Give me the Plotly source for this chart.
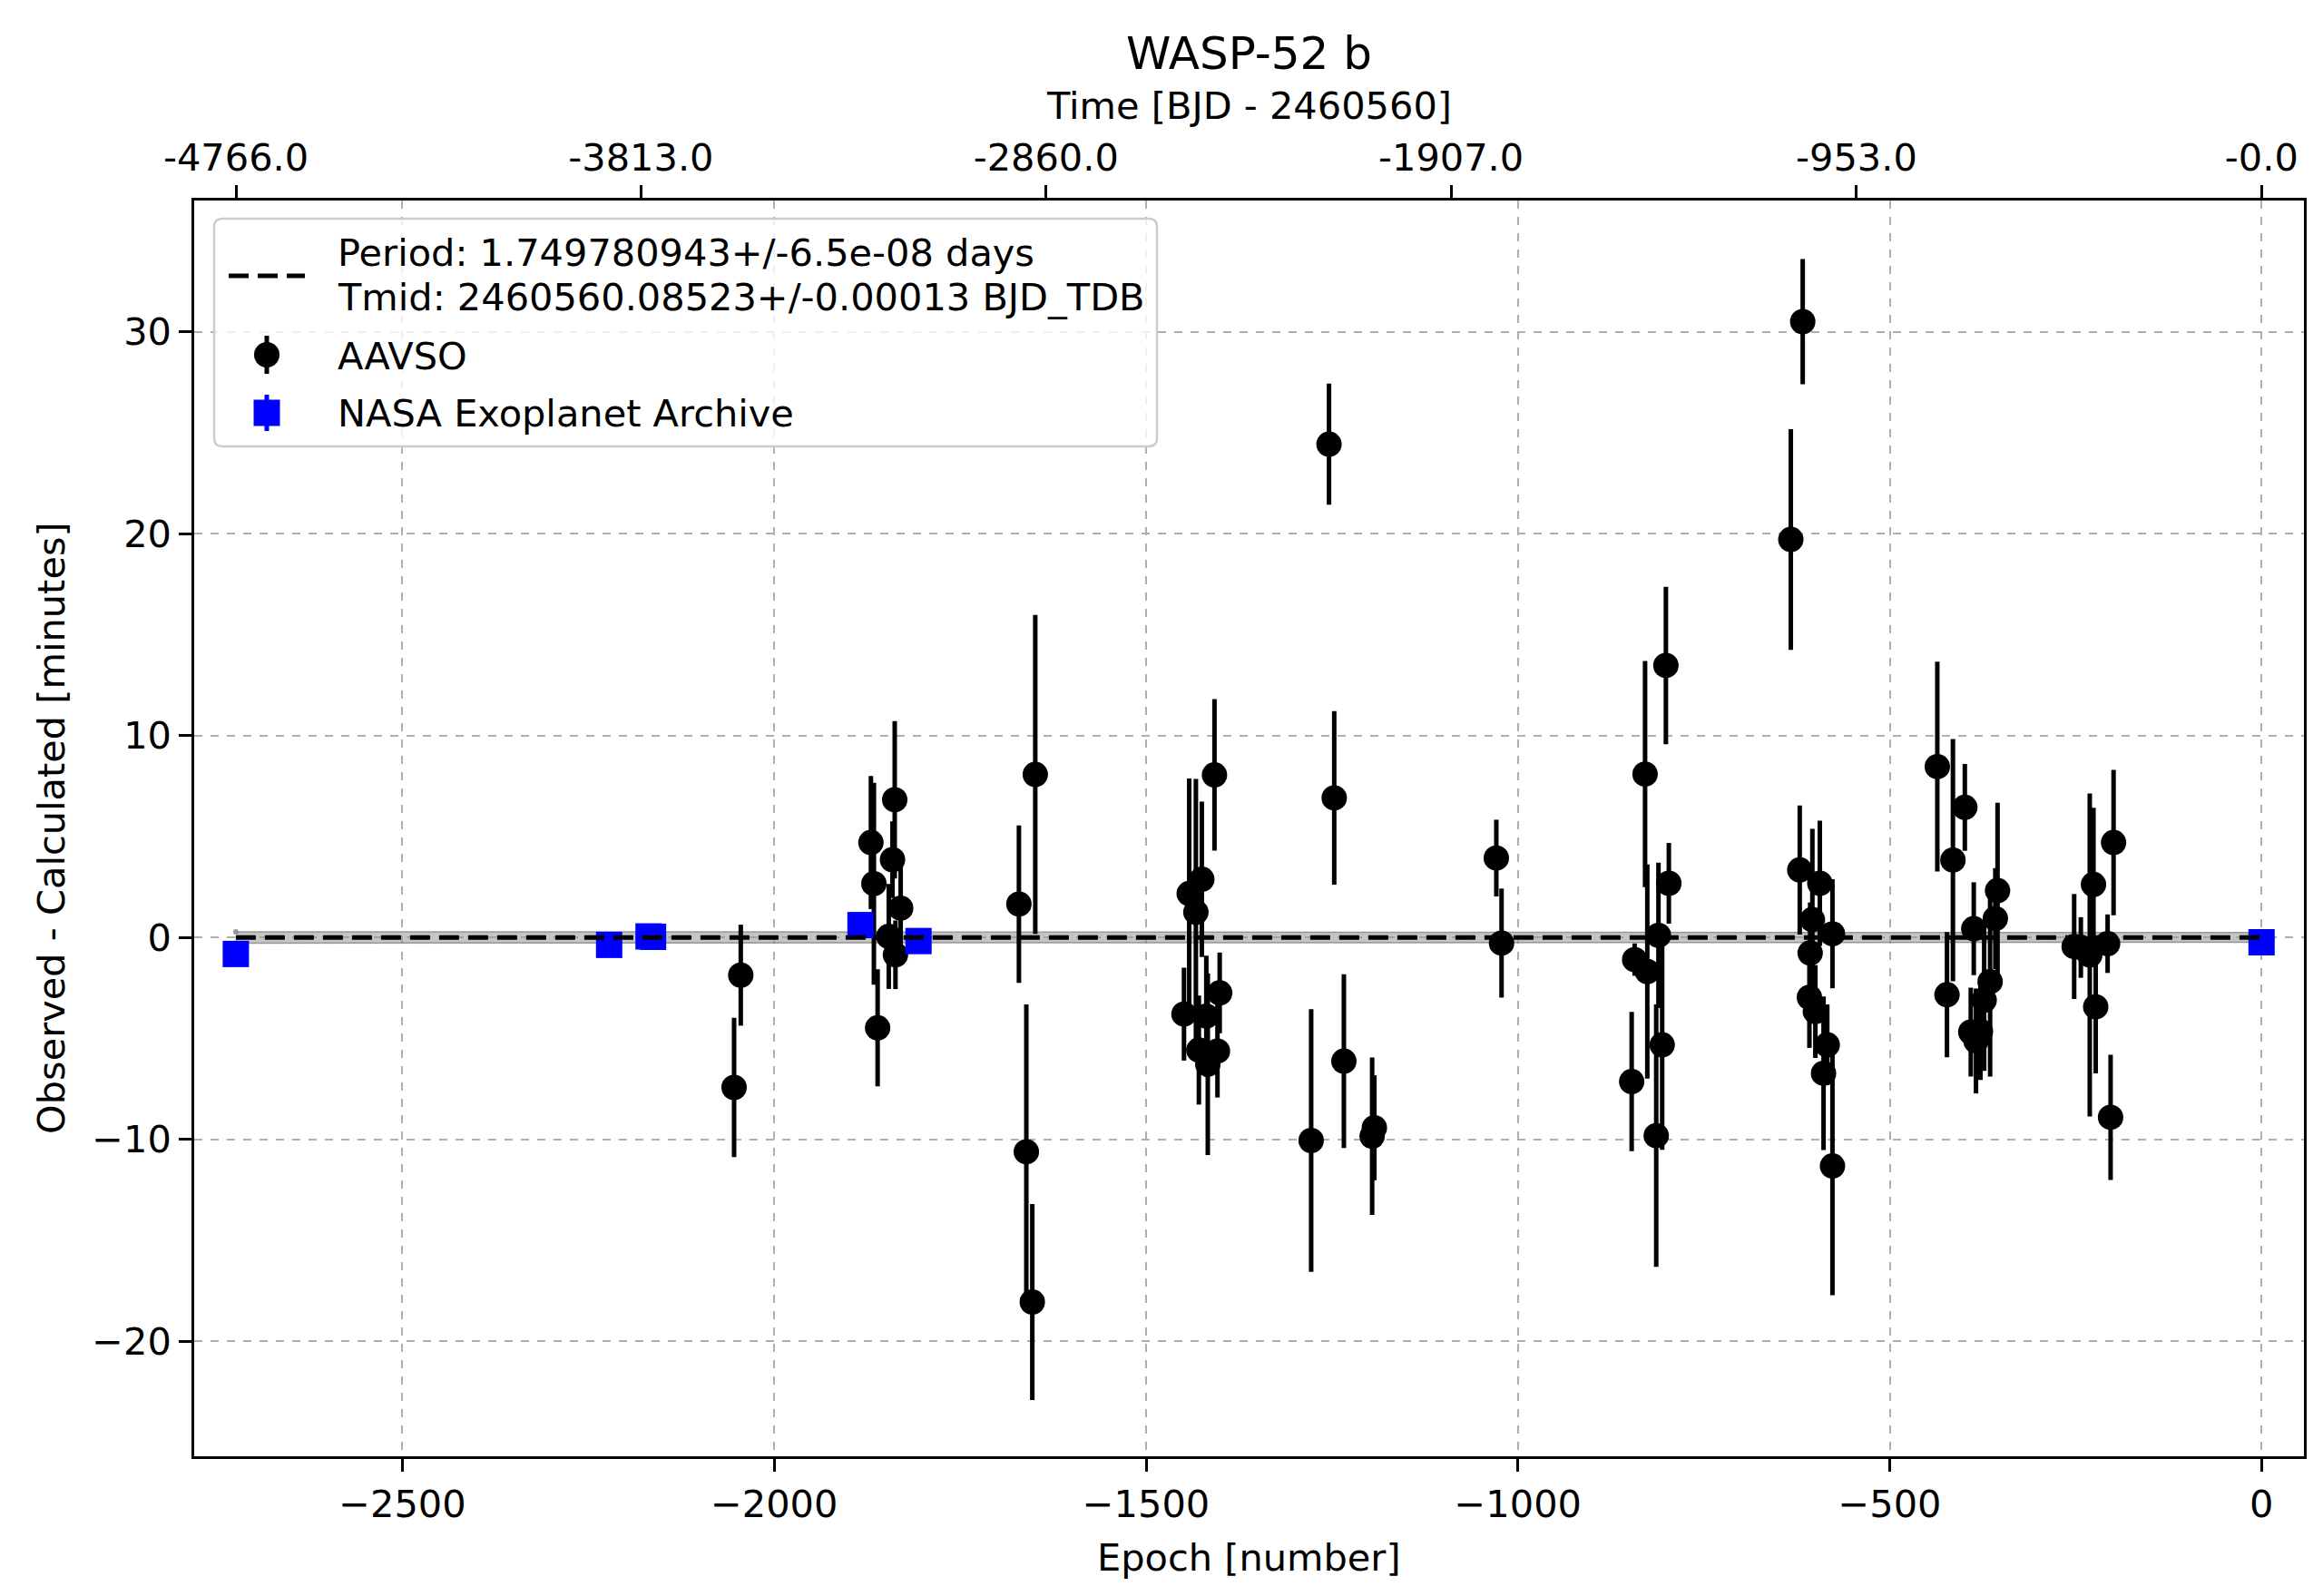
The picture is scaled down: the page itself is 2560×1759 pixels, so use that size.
import plotly.graph_objects as go

# ---------------- data ----------------
period = 1.749780943
fit_label_lines = ["Period: 1.749780943+/-6.5e-08 days",
                   "Tmid: 2460560.08523+/-0.00013 BJD_TDB"]
aavso_name = "AAVSO"
nasa_name = "NASA Exoplanet Archive"

aavso_epoch = [-2054, -2045, -1870, -1866, -1861, -1846, -1841, -1838, -1837, -1830,
               -1671, -1661, -1653, -1649,
               -1449, -1442, -1433, -1429, -1425, -1419, -1417, -1408, -1404, -1401,
               -1278, -1254, -1247, -1234, -1196, -1193,
               -1029, -1022,
               -847, -843, -829, -826, -814, -811, -806, -801, -797,
               -633, -621, -617, -608, -607, -604, -600, -594, -589, -584, -577, -577,
               -436, -423, -415, -399, -391, -387, -384, -378, -373, -365, -358, -355,
               -252, -243, -231, -226, -223, -207, -203, -199]
aavso_oc = [-7.43, -1.87, 4.70, 2.66, -4.48, 0.05, 3.85, 6.82, -0.86, 1.45,
            1.65, -10.62, -18.06, 8.07,
            -3.80, 2.17, 1.25, -5.58, 2.88, -3.90, -6.28, 8.05, -5.63, -2.75,
            -10.06, 24.43, 6.91, -6.13, -9.85, -9.43,
            3.93, -0.28,
            -7.14, -1.10, 8.09, -1.69, -9.82, 0.10, -5.32, 13.47, 2.68,
            19.71, 3.34, 30.50, -2.97, -0.77, 0.88, -3.67, 2.68, -6.73, -5.32, 0.18, -11.32,
            8.46, -2.84, 3.83, 6.44, -4.69, 0.43, -5.13, -4.66, -3.11, -2.19, 0.93, 2.32,
            -0.45, -0.50, -0.87, 2.62, -3.44, -0.31, -8.91, 4.70]
aavso_err = [3.45, 2.5, 3.3, 5.0, 2.9, 2.6, 1.9, 3.9, 1.7, 2.5,
             3.9, 7.3, 4.85, 7.9,
             2.3, 5.7, 6.6, 2.7, 3.85, 3.0, 4.5, 3.75, 2.3, 2.0,
             6.5, 3.0, 4.3, 4.3, 3.9, 2.6,
             1.9, 2.7,
             3.45, 0.8, 5.6, 5.3, 6.5, 3.6, 5.2, 3.9, 2.0,
             5.47, 3.2, 3.1, 2.5, 2.5, 4.5, 2.3, 3.1, 3.8, 2.0, 2.7, 6.4,
             5.2, 3.1, 6.0, 2.15, 2.2, 2.3, 2.6, 2.4, 3.5, 4.7, 2.5, 4.35,
             2.6, 1.5, 8.0, 3.8, 3.3, 1.45, 3.1, 3.6]

nasa_epoch = [-2724, -2222, -2169, -2163, -1884, -1806, 0]
nasa_oc = [-0.82, -0.37, 0.05, 0.03, 0.61, -0.18, -0.24]
nasa_err = [0.2, 0.2, 0.2, 0.2, 0.2, 0.2, 0.2]

fit_epoch = [-2724, 0]
fit_oc = [0.0, 0.0]
band_lower = [-0.28, -0.24]
band_upper = [0.28, 0.24]

x_ticks = [-2500, -2000, -1500, -1000, -500, 0]
x_ticktext = ["\u22122500", "\u22122000", "\u22121500", "\u22121000", "\u2212500", "0"]
y_ticks = [-20, -10, 0, 10, 20, 30]
y_ticktext = ["\u221220", "\u221210", "0", "10", "20", "30"]
top_times = [-4766.0, -3813.0, -2860.0, -1907.0, -953.0, -0.0]
top_ticktext = ["-4766.0", "-3813.0", "-2860.0", "-1907.0", "-953.0", "-0.0"]

x_range = [-2780, 57]
y_range = [-25.7, 36.5]

# ---------------- figure ----------------
FONT = "DejaVu Sans"
FS = 41.5
W, H = 2560, 1759
ML, MR, MT, MB = 206, 29, 213, 162
PW, PH = W - ML - MR, H - MT - MB


def px(x):  # pixel x -> paper
    return (x - ML) / PW


def py(y):  # pixel y (from top) -> paper
    return (H - MB - y) / PH


fig = go.Figure()

# uncertainty band
fig.add_trace(go.Scatter(
    x=fit_epoch + fit_epoch[::-1], y=band_upper + band_lower[::-1],
    fill="toself", fillcolor="rgba(150,150,150,0.55)",
    line=dict(color="rgba(130,130,130,0.8)", width=1.5),
    hoverinfo="skip", showlegend=False))

fig.add_trace(go.Scatter(
    x=aavso_epoch, y=aavso_oc, mode="markers", name=aavso_name,
    marker=dict(symbol="circle", size=28, color="black", line=dict(width=0)),
    error_y=dict(type="data", array=aavso_err, color="black", thickness=5, width=0),
    showlegend=False))

fig.add_trace(go.Scatter(
    x=nasa_epoch, y=nasa_oc, mode="markers", name=nasa_name,
    marker=dict(symbol="square", size=29, color="blue", line=dict(width=0)),
    error_y=dict(type="data", array=nasa_err, color="blue", thickness=5, width=0),
    showlegend=False))

top_tickvals = [t / period for t in top_times]
fig.add_trace(go.Scatter(
    x=fit_epoch, y=fit_oc, mode="lines", name="fit",
    line=dict(color="black", width=5, dash="22px,10px"),
    xaxis="x2", yaxis="y", showlegend=False))

axis_common = dict(
    showline=True, linecolor="black", linewidth=2.5,
    ticks="outside", ticklen=14, tickwidth=2.5, tickcolor="black",
    tickfont=dict(family=FONT, size=FS, color="black"),
    zeroline=False,
)

# ---- hand-drawn legend (matplotlib style) ----
bx0, by0, bx1, by1, r = 228, 233, 1267, 484, 9
rx, ry = r / PW, r / PH
X0, X1, Y0, Y1 = px(bx0), px(bx1), py(by1), py(by0)
box_path = (f"M {X0+rx},{Y1} L {X1-rx},{Y1} Q {X1},{Y1} {X1},{Y1-ry} "
            f"L {X1},{Y0+ry} Q {X1},{Y0} {X1-rx},{Y0} L {X0+rx},{Y0} "
            f"Q {X0},{Y0} {X0},{Y0+ry} L {X0},{Y1-ry} Q {X0},{Y1} {X0+rx},{Y1} Z")

sym_x = 286
shapes = [
    dict(type="path", path=box_path, xref="paper", yref="paper", layer="above",
         fillcolor="rgba(255,255,255,0.8)", line=dict(color="#cccccc", width=2.5)),
    # dashed fit sample
    dict(type="line", xref="paper", yref="paper", layer="above",
         x0=px(244), x1=px(328), y0=py(296), y1=py(296),
         line=dict(color="black", width=5, dash="22px,10px")),
    # AAVSO sample
    dict(type="line", xref="paper", yref="paper", layer="above",
         x0=px(sym_x), x1=px(sym_x), y0=py(362), y1=py(404),
         line=dict(color="black", width=5)),
    dict(type="circle", xref="paper", yref="paper", layer="above",
         x0=px(sym_x - 14), x1=px(sym_x + 14), y0=py(383 + 14), y1=py(383 - 14),
         fillcolor="black", line=dict(color="black", width=0)),
    # NASA sample
    dict(type="line", xref="paper", yref="paper", layer="above",
         x0=px(sym_x), x1=px(sym_x), y0=py(427), y1=py(467),
         line=dict(color="blue", width=5)),
    dict(type="rect", xref="paper", yref="paper", layer="above",
         x0=px(sym_x - 14.5), x1=px(sym_x + 14.5), y0=py(447 + 14.5), y1=py(447 - 14.5),
         fillcolor="blue", line=dict(color="blue", width=0)),
]

txt_x = px(362)
legend_text = [
    (fit_label_lines[0], 270),
    (fit_label_lines[1], 320),
    (aavso_name, 384),
    (nasa_name, 447),
]

annotations = [
    dict(text=t, xref="paper", yref="paper", x=txt_x, y=py(yy),
         xanchor="left", yanchor="middle", showarrow=False,
         font=dict(family=FONT, size=FS, color="black"))
    for t, yy in legend_text
]
annotations += [
    dict(text="Epoch [number]", xref="paper", yref="paper", x=0.5, y=py(1708),
         xanchor="center", yanchor="middle", showarrow=False,
         font=dict(family=FONT, size=FS, color="black")),
    dict(text="Time [BJD - 2460560]", xref="paper", yref="paper", x=0.5, y=py(109),
         xanchor="center", yanchor="middle", showarrow=False,
         font=dict(family=FONT, size=FS, color="black")),
    dict(text="Observed - Calculated [minutes]", xref="paper", yref="paper",
         x=px(48), y=0.5, textangle=-90,
         xanchor="center", yanchor="middle", showarrow=False,
         font=dict(family=FONT, size=FS, color="black")),
]

fig.update_layout(
    width=W, height=H,
    margin=dict(l=ML, r=MR, t=MT, b=MB),
    paper_bgcolor="white", plot_bgcolor="white",
    font=dict(family=FONT, size=FS, color="black"),
    showlegend=False,
    title=dict(text="WASP-52 b", x=0.5, xanchor="center", xref="paper",
               y=1 - 50 / H, yref="container", yanchor="middle",
               font=dict(family=FONT, size=50, color="black")),
    xaxis=dict(range=x_range, tickvals=x_ticks, ticktext=x_ticktext,
               showgrid=True, gridcolor="#b0b0b0", gridwidth=2, griddash="dash",
               mirror=True, **axis_common),
    xaxis2=dict(range=x_range, overlaying="x", side="top", anchor="y",
                tickvals=top_tickvals, ticktext=top_ticktext,
                showgrid=False, **axis_common),
    yaxis=dict(range=y_range, tickvals=y_ticks, ticktext=y_ticktext,
               showgrid=True, gridcolor="#b0b0b0", gridwidth=2, griddash="dash",
               mirror=True, **axis_common),
    shapes=shapes,
    annotations=annotations,
)

fig.write_html("out.html")
